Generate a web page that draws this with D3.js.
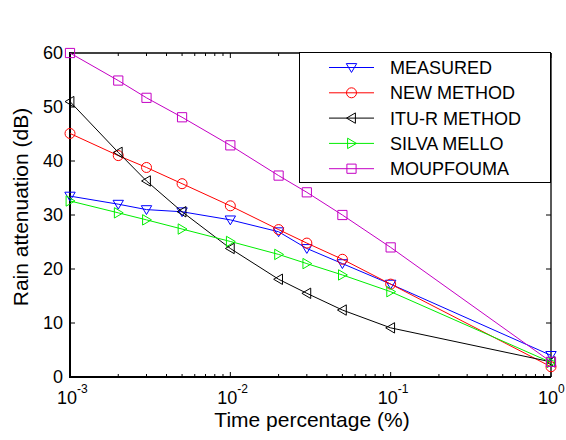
<!DOCTYPE html>
<html>
<head>
<meta charset="utf-8">
<script src="https://cdn.jsdelivr.net/npm/d3@7/dist/d3.min.js"></script>
<style>
  html, body { margin: 0; padding: 0; background: #fff; }
  svg { display: block; }
</style>
</head>
<body>
<svg id="chart" width="566" height="440"></svg>
<script>
// ── Data ───────────────────────────────────────────────
const timePct     = [0.001, 0.002, 0.003, 0.005, 0.01, 0.02, 0.03, 0.05, 0.1, 1];
const measured    = [33.5, 32.0, 31.0, 30.6, 29.1, 26.9, 23.8, 21.0, 17.2, 4.0];
const newMethod   = [45.1, 41.0, 38.8, 35.8, 31.7, 27.3, 24.8, 21.8, 17.2, 1.9];
const ituMethod   = [51.0, 41.6, 36.3, 30.6, 23.8, 18.1, 15.5, 12.4, 9.1, 2.8];
const silvaMello  = [32.6, 30.4, 29.1, 27.4, 25.1, 22.7, 21.0, 18.9, 15.8, 2.7];
const moupfouma   = [60.0, 54.9, 51.7, 48.1, 42.9, 37.3, 34.2, 30.0, 24.0, 2.8];

const seriesNames = ['MEASURED', 'NEW METHOD', 'ITU-R METHOD', 'SILVA MELLO', 'MOUPFOUMA'];
const yTicks      = [0, 10, 20, 30, 40, 50, 60];
const xTickExp    = [-3, -2, -1, 0];

const series = [
  { name: seriesNames[0], values: measured,   color: '#0000ff', marker: 'down'   },
  { name: seriesNames[1], values: newMethod,  color: '#ff0000', marker: 'circle' },
  { name: seriesNames[2], values: ituMethod,  color: '#000000', marker: 'left'   },
  { name: seriesNames[3], values: silvaMello, color: '#00ee00', marker: 'right'  },
  { name: seriesNames[4], values: moupfouma,  color: '#c400c4', marker: 'square' }
];

// ── Layout ─────────────────────────────────────────────
const FONT = 'Liberation Sans, Arial, Helvetica, sans-serif';
const plot = { left: 70, right: 551, top: 53, bottom: 377 };

const svg = d3.select('#chart');

const x = d3.scaleLog().domain([1e-3, 1]).range([plot.left, plot.right]);
const y = d3.scaleLinear().domain([0, 60]).range([plot.bottom, plot.top]);

// ── Marker shapes ──────────────────────────────────────
function markerPath(type) {
  const s = 5.2;
  switch (type) {
    case 'down':  return `M${-s},${-s * 0.75}L${s},${-s * 0.75}L0,${s * 0.95}Z`;
    case 'left':  return `M${-s * 0.95},0L${s * 0.75},${-s}L${s * 0.75},${s}Z`;
    case 'right': return `M${s * 0.95},0L${-s * 0.75},${-s}L${-s * 0.75},${s}Z`;
    case 'square': return `M-4.6,-4.6H4.6V4.6H-4.6Z`;
    default: return d3.symbol(d3.symbolCircle, Math.PI * 5 * 5)();
  }
}

// ── Axes box ───────────────────────────────────────────
const axesG = svg.append('g');

// y ticks (left + right, inward)
yTicks.forEach(v => {
  const yy = y(v);
  axesG.append('line').attr('x1', plot.left).attr('x2', plot.left + 5)
    .attr('y1', yy).attr('y2', yy).attr('stroke', '#000').attr('stroke-width', 1);
  axesG.append('line').attr('x1', plot.right).attr('x2', plot.right - 5)
    .attr('y1', yy).attr('y2', yy).attr('stroke', '#000').attr('stroke-width', 1);
  axesG.append('text')
    .attr('x', plot.left - 7).attr('y', yy).attr('dy', '0.36em')
    .attr('text-anchor', 'end')
    .attr('font-family', FONT).attr('font-size', 18)
    .text(v);
});

// x ticks: majors + minors on bottom and top
const majors = xTickExp.map(e => Math.pow(10, e));
const minors = [];
for (let e = -3; e < 0; e++) {
  for (let k = 2; k <= 9; k++) minors.push(k * Math.pow(10, e));
}
majors.forEach(v => {
  const xx = x(v);
  axesG.append('line').attr('x1', xx).attr('x2', xx)
    .attr('y1', plot.bottom).attr('y2', plot.bottom - 5).attr('stroke', '#000');
  axesG.append('line').attr('x1', xx).attr('x2', xx)
    .attr('y1', plot.top).attr('y2', plot.top + 5).attr('stroke', '#000');
});
minors.forEach(v => {
  const xx = x(v);
  axesG.append('line').attr('x1', xx).attr('x2', xx)
    .attr('y1', plot.bottom).attr('y2', plot.bottom - 3).attr('stroke', '#000');
  axesG.append('line').attr('x1', xx).attr('x2', xx)
    .attr('y1', plot.top).attr('y2', plot.top + 3).attr('stroke', '#000');
});

xTickExp.forEach(e => {
  const t = axesG.append('text')
    .attr('x', x(Math.pow(10, e)) - 13).attr('y', 404)
    .attr('font-family', FONT).attr('font-size', 18);
  t.append('tspan').text('10');
  t.append('tspan').attr('dy', -11).attr('font-size', 12).text(e === 0 ? '0' : '-' + Math.abs(e));
});

// box lines
axesG.append('line').attr('x1', plot.left).attr('x2', plot.right)
  .attr('y1', plot.top).attr('y2', plot.top).attr('stroke', '#000').attr('stroke-width', 1.3);
axesG.append('line').attr('x1', plot.right).attr('x2', plot.right)
  .attr('y1', plot.top).attr('y2', plot.bottom).attr('stroke', '#000').attr('stroke-width', 1.3);
axesG.append('line').attr('x1', plot.left).attr('x2', plot.right)
  .attr('y1', plot.bottom).attr('y2', plot.bottom).attr('stroke', '#000').attr('stroke-width', 2);
axesG.append('line').attr('x1', plot.left).attr('x2', plot.left)
  .attr('y1', plot.top - 1).attr('y2', plot.bottom + 1).attr('stroke', '#000').attr('stroke-width', 2);

// axis labels
svg.append('text')
  .attr('x', 312).attr('y', 427)
  .attr('text-anchor', 'middle')
  .attr('font-family', FONT).attr('font-size', 21)
  .text('Time percentage (%)');

svg.append('text')
  .attr('transform', 'translate(28,207) rotate(-90)')
  .attr('text-anchor', 'middle')
  .attr('font-family', FONT).attr('font-size', 21)
  .text('Rain attenuation (dB)');

// ── Series ─────────────────────────────────────────────
const line = d3.line()
  .x((d, i) => x(timePct[i]))
  .y(d => y(d));

series.forEach(s => {
  const g = svg.append('g');
  g.append('path')
    .attr('d', line(s.values))
    .attr('fill', 'none')
    .attr('stroke', s.color)
    .attr('stroke-width', 1);
  g.selectAll('path.mk')
    .data(s.values)
    .join('path')
      .attr('class', 'mk')
      .attr('transform', (d, i) => `translate(${x(timePct[i])},${y(d)})`)
      .attr('d', markerPath(s.marker))
      .attr('fill', 'none')
      .attr('stroke', s.color)
      .attr('stroke-width', 1);
});

// ── Legend ─────────────────────────────────────────────
const lg = svg.append('g');
lg.append('rect')
  .attr('x', 299.5).attr('y', 52.5)
  .attr('width', 251).attr('height', 130)
  .attr('fill', '#fff').attr('stroke', '#000').attr('stroke-width', 1);

series.forEach((s, i) => {
  const yy = 67.5 + i * 25.3;
  lg.append('line').attr('x1', 329).attr('x2', 374)
    .attr('y1', yy).attr('y2', yy)
    .attr('stroke', s.color).attr('stroke-width', 1);
  lg.append('path')
    .attr('transform', `translate(351.5,${yy})`)
    .attr('d', markerPath(s.marker))
    .attr('fill', 'none').attr('stroke', s.color).attr('stroke-width', 1);
  lg.append('text')
    .attr('x', 390).attr('y', yy).attr('dy', '0.36em')
    .attr('font-family', FONT).attr('font-size', 18)
    .text(s.name);
});
</script>
</body>
</html>
